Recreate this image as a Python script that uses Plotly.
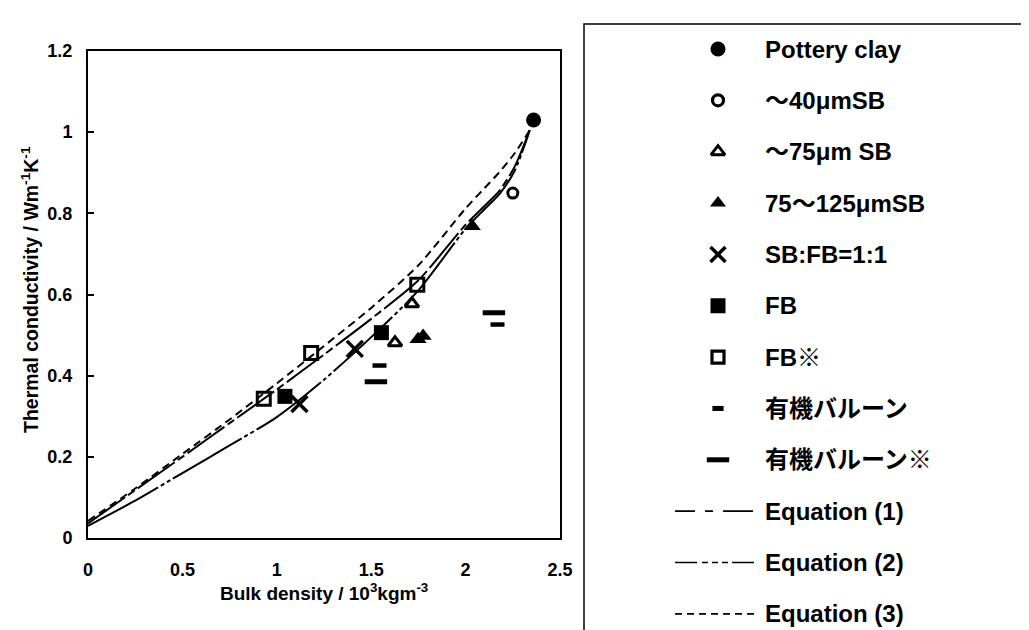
import plotly.graph_objects as go

W, H = 1029, 630
FONT = "Liberation Sans, Noto Sans CJK JP, sans-serif"

# ---------------- data ----------------
clay_x = [2.36]
clay_y = [1.03]
sb40_x = [2.25]
sb40_y = [0.85]
sb75_x = [1.716, 1.626]
sb75_y = [0.577, 0.481]
sb125_x = [2.035, 1.748, 1.775]
sb125_y = [0.768, 0.490, 0.498]
sbfb_x = [1.120, 1.413]
sbfb_y = [0.330, 0.466]
fb_x = [1.043, 1.554]
fb_y = [0.349, 0.506]
fbs_x = [0.931, 1.182, 1.744]
fbs_y = [0.343, 0.456, 0.624]
org_x = [1.544, 2.169]
org_y = [0.425, 0.526]
orgs_x = [1.525, 2.150]
orgs_y = [0.385, 0.555]

curve_x = [0.0, 0.25, 0.5, 0.75, 1.0, 1.25, 1.5, 1.75, 2.0, 2.1, 2.18, 2.26, 2.34]
eq1_y = [0.036, 0.118, 0.200, 0.283, 0.366, 0.452, 0.540, 0.635, 0.772, 0.818, 0.856, 0.915, 1.005]
eq2_y = [0.030, 0.092, 0.160, 0.228, 0.298, 0.390, 0.495, 0.610, 0.762, 0.810, 0.848, 0.905, 1.005]
eq3_y = [0.042, 0.122, 0.207, 0.292, 0.381, 0.473, 0.567, 0.672, 0.812, 0.862, 0.902, 0.948, 1.005]

x_ticks = [0, 0.5, 1, 1.5, 2, 2.5]
y_ticks = [0, 0.2, 0.4, 0.6, 0.8, 1.0, 1.2]

legend_labels = ["Pottery clay", "～40μmSB", "～75μm SB", "75～125μmSB", "SB:FB=1:1",
                 "FB", "FB※", "有機バルーン", "有機バルーン※",
                 "Equation (1)", "Equation (2)", "Equation (3)"]

# ---------------- styles ----------------
K = "black"
marker_styles = [
    dict(symbol="circle", size=15, color=K),
    dict(symbol="circle-open", size=10, color=K, line=dict(width=3, color=K)),
    dict(symbol="triangle-up-open", size=12, color=K, line=dict(width=3, color=K)),
    dict(symbol="triangle-up", size=15, color=K),
    dict(symbol="x-thin-open", size=16, color=K, line=dict(width=3.5, color=K)),
    dict(symbol="square", size=15, color=K),
    dict(symbol="square-open", size=13, color=K, line=dict(width=3, color=K)),
    dict(symbol="line-ew-open", size=10, color=K, line=dict(width=4.5, color=K)),
    dict(symbol="line-ew-open", size=16, color=K, line=dict(width=5, color=K)),
]
legend_marker_styles = [
    dict(symbol="circle", size=15, color=K),
    dict(symbol="circle-open", size=11, color=K, line=dict(width=3.2, color=K)),
    dict(symbol="triangle-up-open", size=12, color=K, line=dict(width=3, color=K)),
    dict(symbol="triangle-up", size=14, color=K),
    dict(symbol="x-thin-open", size=15, color=K, line=dict(width=3.5, color=K)),
    dict(symbol="square", size=15, color=K),
    dict(symbol="square-open", size=12, color=K, line=dict(width=3.2, color=K)),
    dict(symbol="line-ew-open", size=8, color=K, line=dict(width=5, color=K)),
    dict(symbol="line-ew-open", size=16, color=K, line=dict(width=5, color=K)),
]
curve_dash = ["45px,4px,8px,4px", "80px,3px,4px,3px,4px,3px", "8px,5px"]
legend_dash = ["20px,10px,8px,10px,30px", "22px,5px,6px,4px,6px,4px,6px,4px,30px", "7px,5px"]

series = [(clay_x, clay_y), (sb40_x, sb40_y), (sb75_x, sb75_y), (sb125_x, sb125_y),
          (sbfb_x, sbfb_y), (fb_x, fb_y), (fbs_x, fbs_y), (org_x, org_y), (orgs_x, orgs_y)]
curves = [eq1_y, eq2_y, eq3_y]

fig = go.Figure()

for i, cy in enumerate(curves):
    fig.add_trace(go.Scatter(x=curve_x, y=cy, mode="lines",
                             line=dict(color=K, width=2, dash=curve_dash[i], shape="spline",
                                       smoothing=0.7),
                             showlegend=False, hoverinfo="skip"))

for i, (sx, sy) in enumerate(series):
    fig.add_trace(go.Scatter(x=sx, y=sy, mode="markers", marker=marker_styles[i],
                             showlegend=False, cliponaxis=False))

# ---------------- hand-drawn legend on its own pixel axes ----------------
row0, row_gap = 41, 51.35
mark_x, text_x = 710, 755
line_x0, line_x1 = 667, 746
rows = [row0 + i * row_gap for i in range(len(legend_labels))]

for i in range(9):
    fig.add_trace(go.Scatter(x=[mark_x], y=[rows[i]], mode="markers",
                             marker=legend_marker_styles[i], xaxis="x2", yaxis="y2",
                             showlegend=False, cliponaxis=False))
for j in range(3):
    r = rows[9 + j]
    fig.add_trace(go.Scatter(x=[line_x0, line_x1], y=[r, r], mode="lines",
                             line=dict(color=K, width=1.6, dash=legend_dash[j]),
                             xaxis="x2", yaxis="y2", showlegend=False, cliponaxis=False))

annotations = []
for i, lab in enumerate(legend_labels):
    annotations.append(dict(x=text_x, y=rows[i], xref="x2", yref="y2", text="<b>%s</b>" % lab,
                            showarrow=False, xanchor="left", yanchor="middle",
                            font=dict(family=FONT, size=24, color=K)))

# axis titles
annotations.append(dict(x=316 / W, y=(H - 584) / H, xref="paper", yref="paper",
                        text="<b>Bulk density / 10<sup>3</sup>kgm<sup>-3</sup></b>",
                        showarrow=False, xanchor="center", yanchor="middle",
                        font=dict(family=FONT, size=19, color=K)))
annotations.append(dict(x=22 / W, y=(H - 282) / H, xref="paper", yref="paper",
                        text="<b>Thermal conductivity / Wm<sup>-1</sup>K<sup>-1</sup></b>",
                        showarrow=False, xanchor="center", yanchor="middle", textangle=-90,
                        font=dict(family=FONT, size=19.5, color=K)))

fig.update_layout(
    width=W, height=H,
    margin=dict(l=0, r=0, t=0, b=0),
    paper_bgcolor="white", plot_bgcolor="white",
    font=dict(family=FONT, color=K),
    showlegend=False,
    annotations=annotations,
    xaxis=dict(domain=[80 / W, 552 / W], range=[0, 2.5], tickvals=x_ticks,
               showline=True, linecolor=K, linewidth=2, mirror=True,
               ticks="", showgrid=False, zeroline=False, automargin=False,
               ticklabelstandoff=14,
               tickfont=dict(family=FONT, size=18, color=K, weight="bold")),
    yaxis=dict(domain=[100 / H, 587 / H], range=[0, 1.2], tickvals=y_ticks,
               showline=True, linecolor=K, linewidth=2, mirror=True,
               ticks="inside", ticklen=6, tickwidth=1.5, tickcolor=K,
               showgrid=False, zeroline=False, automargin=False,
               ticklabelstandoff=10,
               tickfont=dict(family=FONT, size=18, color=K, weight="bold")),
    xaxis2=dict(domain=[570 / W, 1], range=[570, 1029], visible=False, anchor="y2",
                fixedrange=True),
    yaxis2=dict(domain=[0, 1], range=[630, 0], visible=False, anchor="x2", fixedrange=True),
    shapes=[dict(type="rect", xref="x2", yref="y2", x0=576, x1=1040, y0=16, y1=628,
                 line=dict(color=K, width=1.5), fillcolor="rgba(0,0,0,0)")],
)

fig.write_html("out.html")
